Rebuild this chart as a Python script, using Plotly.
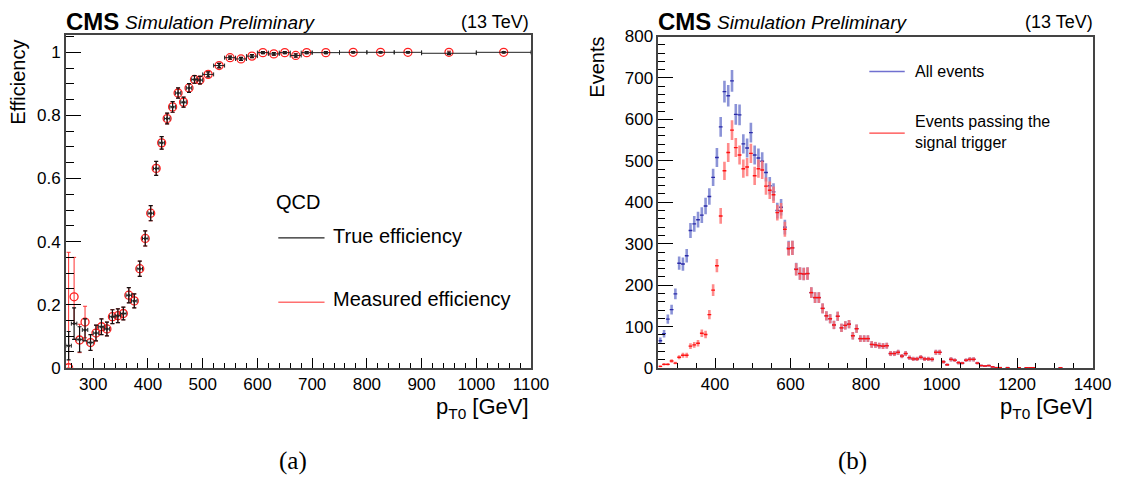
import numpy as np
import plotly.graph_objects as go

W, H = 1145, 498

# ---------------- (a) efficiency data ----------------
eff_edges = list(range(250, 501, 10)) + list(range(520, 701, 20)) + [750, 800, 850, 900, 1000, 1100]
true_eff = [0.07, 0.14, 0.09, 0.12, 0.08, 0.11, 0.13, 0.123, 0.162, 0.165,
            0.172, 0.23, 0.212, 0.314, 0.41, 0.49, 0.632, 0.713, 0.79, 0.827,
            0.871, 0.842, 0.887, 0.914, 0.912, 0.93, 0.958, 0.983, 0.979, 0.988,
            0.999, 0.995, 0.999, 0.99, 0.999, 0.999, 1.0, 1.0, 1.0, 0.997, 1.0]
true_err = [0.045, 0.05, 0.04, 0.035, 0.025, 0.025, 0.025, 0.022, 0.022, 0.022,
            0.02, 0.024, 0.022, 0.024, 0.024, 0.024, 0.022, 0.02, 0.017, 0.017,
            0.016, 0.016, 0.014, 0.012, 0.012, 0.008, 0.007, 0.005, 0.005, 0.005,
            0.003, 0.004, 0.003, 0.005, 0.003, 0.003, 0.002, 0.002, 0.002, 0.004, 0.002]
meas_eff = [0.0, 0.225, 0.088, 0.145, 0.08, 0.11, 0.13, 0.123, 0.162, 0.165,
            0.172, 0.23, 0.212, 0.314, 0.41, 0.49, 0.632, 0.713, 0.79, 0.827,
            0.871, 0.842, 0.887, 0.914, 0.912, 0.93, 0.958, 0.983, 0.979, 0.988,
            0.999, 0.995, 0.999, 0.99, 0.999, 0.999, 1.0, 1.0, 1.0, 1.0, 1.0]
meas_err_up = [0.366, 0.125, 0.05, 0.05] + true_err[4:]
meas_err_dn = [0.0, 0.085, 0.04, 0.05] + true_err[4:]

eff_x = [(a + b) / 2 for a, b in zip(eff_edges[:-1], eff_edges[1:])]
eff_hw = [(b - a) / 2 for a, b in zip(eff_edges[:-1], eff_edges[1:])]

# ---------------- (b) event counts ----------------
ev_x = np.arange(255, 1400, 10)  # 10 GeV bin centres
all_head = [66, 83, 118, 141, 179, 253, 251, 271, 332, 348, 358, 369, 391, 414, 460, 508,
            582, 667, 657, 693, 612, 611, 541, 531, 568, 514, 507, 499, 472, 440, 425, 380,
            388, 340, 290, 290, 239, 228, 227, 228]
all_head_err = [8, 9, 11, 12, 13, 16, 16, 16, 18, 19, 19, 19, 20, 20, 21, 23,
                24, 26, 26, 26, 25, 25, 23, 23, 24, 23, 23, 22, 22, 21, 21, 19,
                20, 18, 17, 17, 15, 15, 15, 15]
pass_head = [4, 9, 9, 17, 12, 26, 31, 31, 53, 56, 60, 84, 81, 129, 188, 247,
             367, 476, 520, 574, 532, 514, 481, 485, 518, 464, 481, 478, 439, 429, 418, 375,
             379, 335, 288, 290, 238, 228, 227, 228]
pass_head_err = [2, 3, 3, 4, 3, 5, 6, 6, 7, 7, 8, 9, 9, 11, 14, 16,
                 19, 22, 23, 24, 23, 23, 22, 22, 23, 22, 22, 22, 21, 21, 20, 19,
                 19, 18, 17, 17, 15, 15, 15, 15]
tail = [182, 170, 170, 144, 126, 119, 104, 125, 97, 103,
        106, 78, 95, 71, 71, 71, 57, 56, 54, 53,
        54, 35, 35, 38, 29, 35, 25, 22, 22, 26,
        22, 22, 21, 38, 38, 15, 8, 21, 19, 13,
        12, 19, 21, 21, 12, 6, 5, 6, 3, 1,
        1, 0, 1, 0, 0, 1, 0, 1, 1, 1,
        0, 0, 0, 0, 0, 0, 1, 0, 0, 0, 0, 0, 0, 0, 0]
tail_err = [13, 13, 13, 12, 11, 11, 10, 11, 10, 10,
            10, 9, 10, 8, 8, 8, 8, 7, 7, 7,
            7, 6, 6, 6, 5, 6, 5, 5, 5, 5,
            5, 5, 5, 6, 6, 4, 3, 5, 4, 4,
            3, 4, 5, 5, 3, 2, 2, 2, 2, 1,
            1, 0, 1, 0, 0, 1, 0, 1, 1, 1,
            0, 0, 0, 0, 0, 0, 1, 0, 0, 0, 0, 0, 0, 0, 0]

all_ev = np.array(all_head + tail, dtype=float)
all_err = np.array(all_head_err + tail_err, dtype=float)
pass_ev = np.array(pass_head + tail, dtype=float)
pass_err = np.array(pass_head_err + tail_err, dtype=float)

FONT = "Liberation Sans, Arial, Helvetica, sans-serif"

fig = go.Figure()

# (a)
fig.add_trace(go.Scatter(
    x=eff_x, y=meas_eff, mode="markers", xaxis="x", yaxis="y",
    marker=dict(symbol="circle-open", size=8, color="#ff2020", line=dict(width=1.3)),
    error_y=dict(type="data", symmetric=False, array=meas_err_up, arrayminus=meas_err_dn,
                 color="#ff3030", thickness=1, width=2),
))
fig.add_trace(go.Scatter(
    x=eff_x, y=true_eff, mode="markers", xaxis="x", yaxis="y",
    marker=dict(symbol="circle", size=3, color="#222"),
    error_y=dict(type="data", array=true_err, color="#111", thickness=1.2, width=2),
    error_x=dict(type="data", array=eff_hw, color="#222", thickness=1, width=2),
))

# (b)
m_all = all_ev > 0
m_pass = pass_ev > 0
fig.add_trace(go.Scatter(
    x=ev_x[m_all], y=all_ev[m_all], mode="markers", xaxis="x2", yaxis="y2",
    marker=dict(size=0.1, color="#2a2aa8"),
    error_y=dict(type="data", array=all_err[m_all], color="rgba(110,120,205,0.8)", thickness=2.6, width=0),
    error_x=dict(type="constant", value=5, color="#2a2aa8", thickness=1.4, width=0),
))
fig.add_trace(go.Scatter(
    x=ev_x[m_pass], y=pass_ev[m_pass], mode="markers", xaxis="x2", yaxis="y2",
    marker=dict(size=0.1, color="#ff0000"),
    error_y=dict(type="data", array=pass_err[m_pass], color="rgba(255,110,110,0.8)", thickness=2.6, width=0),
    error_x=dict(type="constant", value=5, color="#ff1010", thickness=1.4, width=0),
))

def fx(p):
    return p / W

def fy(p):
    return 1 - p / H

axis_common = dict(showgrid=False, zeroline=False, showline=True, mirror=True,
                   linecolor="#444", linewidth=1.5, ticks="inside", tickcolor="black",
                   tickfont=dict(family=FONT, size=17, color="black"))

fig.update_layout(
    width=W, height=H, margin=dict(l=0, r=0, t=0, b=0),
    paper_bgcolor="white", plot_bgcolor="white", showlegend=False,
    xaxis=dict(domain=[fx(67), fx(540)], range=[250, 1100], anchor="y",
               tick0=0, dtick=100, ticklen=10,
               minor=dict(tick0=0, dtick=20, ticklen=5, ticks="inside", tickcolor="black"),
               **axis_common),
    yaxis=dict(domain=[fy(373), fy(27)], range=[0, 1.055], anchor="x",
               tick0=0, dtick=0.2, ticklen=15,
               minor=dict(tick0=0, dtick=0.05, ticklen=8, ticks="inside", tickcolor="black"),
               **axis_common),
    xaxis2=dict(domain=[fx(669.5), fx(1111)], range=[250, 1400], anchor="y2",
                tick0=0, dtick=200, ticklen=10,
                minor=dict(tick0=0, dtick=50, ticklen=5, ticks="inside", tickcolor="black"),
                **axis_common),
    yaxis2=dict(domain=[fy(373.3), fy(28.6)], range=[0, 800], anchor="x2",
                tick0=0, dtick=100, ticklen=15,
                minor=dict(tick0=0, dtick=20, ticklen=7, ticks="inside", tickcolor="black"),
                **axis_common),
)

ann = []

def text(x, y, s, size, xanchor="left", angle=0, family=FONT):
    ann.append(dict(x=fx(x), y=fy(y), xref="paper", yref="paper", text=s, showarrow=False,
                    xanchor=xanchor, yanchor="middle", textangle=angle,
                    font=dict(family=family, size=size, color="black")))

for x0, x1 in [(67, 540), (669, 1113)]:
    text(x0 - 2, 13, "<b>CMS</b>", 24)
    text(x0 + 58, 14, "<i>Simulation Preliminary</i>", 19)
    text(x1, 14, "(13 TeV)", 18, xanchor="right")
    text(x1, 415, "p<sub>T0</sub> [GeV]", 22, xanchor="right")

text(18, 76, "Efficiency", 20, xanchor="center", angle=-90)
text(607, 60, "Events", 20, xanchor="center", angle=-90)

text(279, 201, "QCD", 20)
text(337, 236, "True efficiency", 20)
text(337, 302, "Measured efficiency", 20)

text(928, 65, "All events", 16)
text(928, 117, "Events passing the", 16)
text(928, 139, "signal trigger", 16)

text(298, 470, "(a)", 25, xanchor="center", family="Liberation Serif, Times New Roman, serif")
text(867, 470, "(b)", 25, xanchor="center", family="Liberation Serif, Times New Roman, serif")

shapes = [
    dict(type="line", xref="paper", yref="paper", x0=fx(283), x1=fx(330), y0=fy(238), y1=fy(238),
         line=dict(color="#222", width=1.2)),
    dict(type="line", xref="paper", yref="paper", x0=fx(283), x1=fx(330), y0=fy(305), y1=fy(305),
         line=dict(color="#ff7070", width=1.5)),
    dict(type="line", xref="paper", yref="paper", x0=fx(884), x1=fx(920), y0=fy(65), y1=fy(65),
         line=dict(color="#7070d0", width=1.5)),
    dict(type="line", xref="paper", yref="paper", x0=fx(884), x1=fx(920), y0=fy(129), y1=fy(129),
         line=dict(color="#ff4040", width=1.3)),
]

fig.update_layout(annotations=ann, shapes=shapes)
fig.write_html("out.html")
